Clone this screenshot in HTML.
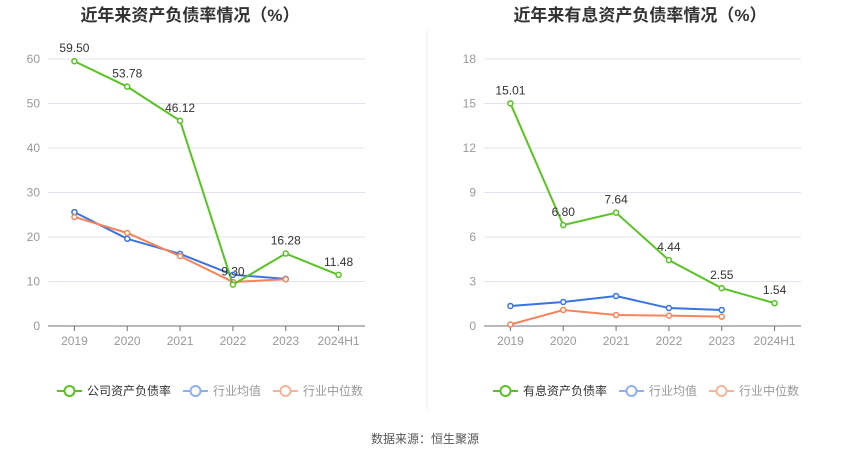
<!DOCTYPE html>
<html><head><meta charset="utf-8"><style>
body{margin:0;background:#fff;font-family:"Liberation Sans","Noto Sans CJK SC",sans-serif;}
svg text{font-family:"Liberation Sans","Noto Sans CJK SC",sans-serif;}
</style></head><body>
<svg id="c" width="850" height="459" xmlns="http://www.w3.org/2000/svg">
<text x="190" y="21" text-anchor="middle" font-size="17" font-weight="bold" fill="#333">近年来资产负债率情况（%）</text>
<text x="640" y="21" text-anchor="middle" font-size="17" font-weight="bold" fill="#333">近年来有息资产负债率情况（%）</text>
<line x1="427" y1="30" x2="427" y2="410" stroke="#eee"/>
<text x="425" y="443" text-anchor="middle" font-size="12" fill="#555">数据来源：恒生聚源</text>
</svg>
<script>
const categories=["2019","2020","2021","2022","2023","2024H1"];
const leftCompany=[59.50,53.78,46.12,9.30,16.28,11.48];
const leftAvg=[25.6,19.6,16.2,11.5,10.6];
const leftMedian=[24.5,20.9,15.7,9.9,10.5];
const leftTicks=[0,10,20,30,40,50,60];
const rightCompany=[15.01,6.80,7.64,4.44,2.55,1.54];
const rightAvg=[1.35,1.62,2.02,1.21,1.08];
const rightMedian=[0.1,1.08,0.74,0.7,0.63];
const rightTicks=[0,3,6,9,12,15,18];
const legendLeft=["公司资产负债率","行业均值","行业中位数"];
const legendRight=["有息资产负债率","行业均值","行业中位数"];

const svg=document.getElementById('c');
const NS="http://www.w3.org/2000/svg";
function mk(t,a,p){const e=document.createElementNS(NS,t);for(const k in a)e.setAttribute(k,a[k]);(p||svg).appendChild(e);return e;}
function chart(pre,x0,x1,ticks,company,avg,median,legend,legX){
  const y0=326,yTop=59,max=ticks[ticks.length-1];
  const ys=v=>y0-(v/max)*(y0-yTop);
  const step=(x1-x0)/categories.length;
  const xs=i=>x0+step*(i+0.5);
  ticks.forEach(t=>{
    if(t>0){const l=mk('line',{x1:x0,x2:x1,y1:ys(t),y2:ys(t),stroke:'#e0e6f1'});
    
    }
    const tx=mk('text',{x:x0-8,y:ys(t)+4,'text-anchor':'end','font-size':12,fill:'#999'});
    tx.textContent=t;
    
    
  });
  const ax=mk('line',{x1:x0,x2:x1,y1:y0,y2:y0,stroke:'#6e7079'});
  
  
  categories.forEach((c,i)=>{
    mk('line',{x1:xs(i),x2:xs(i),y1:y0,y2:y0+5,stroke:'#6e7079'});
    const tx=mk('text',{x:xs(i),y:y0+19,'text-anchor':'middle','font-size':12,fill:'#999'});
    tx.textContent=c;
    
    
  });
  function series(vals,color,name,labels){
    const pts=vals.map((v,i)=>xs(i)+','+ys(v)).join(' ');
    const pl=mk('polyline',{points:pts,fill:'none',stroke:color,'stroke-width':2});
    
    
    vals.forEach((v,i)=>{
      const c=mk('circle',{cx:xs(i),cy:ys(v),r:2.5,fill:'#fff',stroke:color,'stroke-width':1.5});
      
      
      if(labels){const t=mk('text',{x:xs(i),y:ys(v)-9,'text-anchor':'middle','font-size':12,fill:'#333'});
      t.textContent=v.toFixed(2);
      
      }
    });
  }
  series(avg,'#3a74e0','avg',false);
  series(median,'#f5845a','median',false);
  series(company,'#58c322','company',true);
  const cols=['#58c322','#8fb0f0','#f8b49a'];
  let lx=legX;
  legend.forEach((n,i)=>{
    const g=mk('g',{});
    
    
    mk('line',{x1:lx,x2:lx+25,y1:391,y2:391,stroke:cols[i],'stroke-width':2},g);
    mk('circle',{cx:lx+12.5,cy:391,r:5,fill:'#fff',stroke:cols[i],'stroke-width':2},g);
    const t=mk('text',{x:lx+30,y:395,'font-size':12,fill:i==0?'#333':'#999'},g);
    t.textContent=n;
    lx+=30+n.length*12+12;
  });
}
chart('left',48,365,leftTicks,leftCompany,leftAvg,leftMedian,legendLeft,57);
chart('right',484,801,rightTicks,rightCompany,rightAvg,rightMedian,legendRight,493);
</script>
</body></html>
